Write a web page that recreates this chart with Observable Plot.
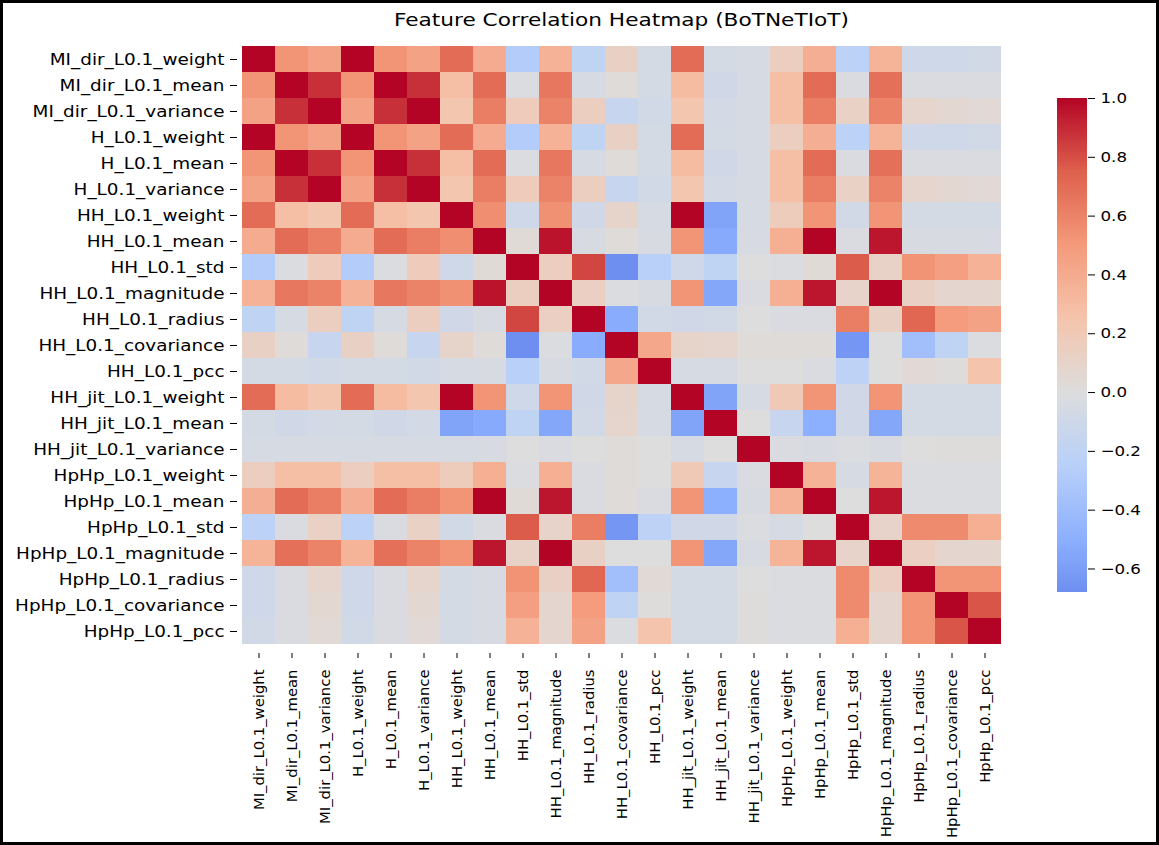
<!DOCTYPE html>
<html><head><meta charset="utf-8">
<script src="https://cdn.jsdelivr.net/npm/d3@7"></script>
<script src="https://cdn.jsdelivr.net/npm/@observablehq/plot@0.6"></script>
<style>
html,body{margin:0;padding:0;background:#fff;overflow:hidden}
#page{position:relative;width:1159px;height:845px;font-family:"DejaVu Sans",sans-serif;color:#000}
#frame{position:absolute;left:0;top:0;width:1159px;height:845px;box-sizing:border-box;border:3px solid #000;pointer-events:none}
#title{position:absolute;left:237px;width:768px;top:9px;text-align:center;font-size:18.5px;line-height:22px;white-space:nowrap}
#title span{display:inline-block;transform:scaleX(1.17);transform-origin:50% 50%}
#main{position:absolute;left:0;top:34px}
#cbar{position:absolute;left:1057px;top:88px}
</style></head><body>
<div id="page"><div id="title"><span>Feature Correlation Heatmap (BoTNeTIoT)</span></div><div id="main"></div><div id="cbar"></div><div id="frame"></div></div>
<script>
const features = [
  "MI_dir_L0.1_weight","MI_dir_L0.1_mean","MI_dir_L0.1_variance",
  "H_L0.1_weight","H_L0.1_mean","H_L0.1_variance",
  "HH_L0.1_weight","HH_L0.1_mean","HH_L0.1_std","HH_L0.1_magnitude","HH_L0.1_radius","HH_L0.1_covariance","HH_L0.1_pcc",
  "HH_jit_L0.1_weight","HH_jit_L0.1_mean","HH_jit_L0.1_variance",
  "HpHp_L0.1_weight","HpHp_L0.1_mean","HpHp_L0.1_std","HpHp_L0.1_magnitude","HpHp_L0.1_radius","HpHp_L0.1_covariance","HpHp_L0.1_pcc"
];
// lower triangle of the correlation matrix (row i, columns 0..i)
const corrLower = [
  [1],
  [0.52, 1],
  [0.45, 0.88, 1],
  [1.00, 0.52, 0.45, 1],
  [0.52, 1.00, 0.88, 0.52, 1],
  [0.45, 0.88, 1.00, 0.45, 0.88, 1],
  [0.70, 0.28, 0.23, 0.70, 0.28, 0.23, 1],
  [0.40, 0.70, 0.62, 0.40, 0.70, 0.62, 0.55, 1],
  [-0.28, -0.02, 0.18, -0.28, -0.02, 0.18, -0.10, 0.03, 1],
  [0.36, 0.65, 0.60, 0.36, 0.65, 0.60, 0.54, 0.96, 0.15, 1],
  [-0.20, -0.05, 0.15, -0.20, -0.05, 0.15, -0.09, -0.04, 0.82, 0.14, 1],
  [0.13, 0.02, -0.15, 0.13, 0.02, -0.15, 0.09, 0.02, -0.68, -0.02, -0.52, 1],
  [-0.06, -0.06, -0.08, -0.06, -0.06, -0.08, -0.05, -0.04, -0.24, -0.04, -0.08, 0.42, 1],
  [0.70, 0.30, 0.23, 0.70, 0.30, 0.23, 1.00, 0.52, -0.10, 0.52, -0.09, 0.09, -0.05, 1],
  [-0.06, -0.09, -0.07, -0.06, -0.09, -0.07, -0.57, -0.53, -0.20, -0.55, -0.08, 0.08, -0.05, -0.57, 1],
  [-0.05, -0.05, -0.05, -0.05, -0.05, -0.05, -0.05, -0.04, 0.00, -0.03, 0.00, 0.02, 0.00, -0.05, 0.00, 1],
  [0.15, 0.28, 0.28, 0.15, 0.28, 0.28, 0.17, 0.37, -0.02, 0.37, -0.03, 0.02, 0.00, 0.20, -0.15, -0.03, 1],
  [0.38, 0.70, 0.62, 0.38, 0.70, 0.62, 0.52, 1.00, 0.03, 0.95, -0.03, 0.02, -0.03, 0.52, -0.50, -0.04, 0.36, 1],
  [-0.22, -0.03, 0.12, -0.22, -0.03, 0.12, -0.08, -0.03, 0.76, 0.10, 0.62, -0.64, -0.21, -0.09, -0.09, -0.02, -0.05, 0.00, 1],
  [0.35, 0.68, 0.60, 0.35, 0.68, 0.60, 0.52, 0.95, 0.11, 1.00, 0.13, 0.00, 0.00, 0.52, -0.55, -0.04, 0.35, 0.95, 0.10, 1],
  [-0.10, -0.03, 0.08, -0.10, -0.03, 0.08, -0.06, -0.04, 0.53, 0.13, 0.72, -0.38, 0.04, -0.06, -0.06, 0.00, -0.02, -0.02, 0.57, 0.14, 1],
  [-0.10, -0.03, 0.06, -0.10, -0.03, 0.06, -0.06, -0.04, 0.47, 0.07, 0.49, -0.20, 0.01, -0.06, -0.06, 0.01, -0.02, -0.02, 0.57, 0.07, 0.52, 1],
  [-0.08, -0.03, 0.04, -0.08, -0.03, 0.04, -0.06, -0.04, 0.36, 0.07, 0.45, -0.02, 0.25, -0.06, -0.06, 0.01, -0.02, -0.02, 0.37, 0.07, 0.52, 0.78, 1]
];
const colorbarTicks = [-0.6, -0.4, -0.2, 0.0, 0.2, 0.4, 0.6, 0.8, 1.0];
const coolwarmStops = ["#3b4cc0","#6282ea","#8db0fe","#b8d0f9","#dddddd","#f5c4ac","#f49a7b","#de604d","#b40426"];

// build table
const cells = [];
features.forEach((fy, i) => {
  features.forEach((fx, j) => {
    const v = j <= i ? corrLower[i][j] : corrLower[j][i];
    cells.push({x: fx, y: fy, value: v});
  });
});
const vmin = d3.min(cells, d => d.value);
const vmax = d3.max(cells, d => d.value);
const coolwarm = d3.piecewise(d3.interpolateRgb, coolwarmStops);
const colorScale = {type: "linear", domain: [-1, 1], interpolate: coolwarm};

// widen horizontal tick labels slightly (reference text is horizontally stretched)
function stretchLabels(svg, label, sx) {
  svg.querySelectorAll(`g[aria-label="${label}"] text`).forEach(el => {
    let t = el.getAttribute("transform");
    if (!t) {
      const x = el.getAttribute("x") || 0, y = el.getAttribute("y") || 0;
      el.removeAttribute("x"); el.removeAttribute("y");
      t = `translate(${x},${y})`;
    }
    el.setAttribute("transform", `${t} scale(${sx},1)`);
  });
}

const main = Plot.plot({
  width: 1040, height: 811,
  marginTop: 2, marginBottom: 192, marginLeft: 237, marginRight: 35,
  style: {fontFamily: "DejaVu Sans", color: "#000", background: "transparent"},
  x: {domain: features, padding: 0},
  y: {domain: features, padding: 0},
  color: colorScale,
  marks: [
    Plot.cell(cells, {x: "x", y: "y", fill: "value", inset: 0, shapeRendering: "crispEdges"}),
    Plot.axisX({anchor: "bottom", tickRotate: -90, tickSize: 5, tickPadding: 11, fontSize: 14.8, label: null}),
    Plot.axisY({anchor: "left", tickSize: 7, tickPadding: 6, fontSize: 16, label: null})
  ]
});
stretchLabels(main, "y-axis tick label", 1.15);
document.getElementById("main").appendChild(main);

const N = 300;
const cbSteps = d3.range(N).map(i => ({v0: vmin + (vmax - vmin) * i / N, v1: vmin + (vmax - vmin) * (i + 1) / N}));
const cbar = Plot.plot({
  width: 100, height: 514,
  marginTop: 10, marginBottom: 10, marginLeft: 0, marginRight: 70,
  style: {fontFamily: "DejaVu Sans", color: "#000", background: "transparent"},
  y: {domain: [vmin, vmax]},
  color: colorScale,
  marks: [
    Plot.rect(cbSteps, {y1: "v0", y2: "v1", fill: d => (d.v0 + d.v1) / 2, shapeRendering: "crispEdges"}),
    Plot.axisY({anchor: "right", ticks: colorbarTicks, tickFormat: d3.format(".1f"), tickSize: 7, tickPadding: 6, fontSize: 14.5, label: null})
  ]
});
stretchLabels(cbar, "y-axis tick label", 1.15);
document.getElementById("cbar").appendChild(cbar);
</script>
</body></html>
